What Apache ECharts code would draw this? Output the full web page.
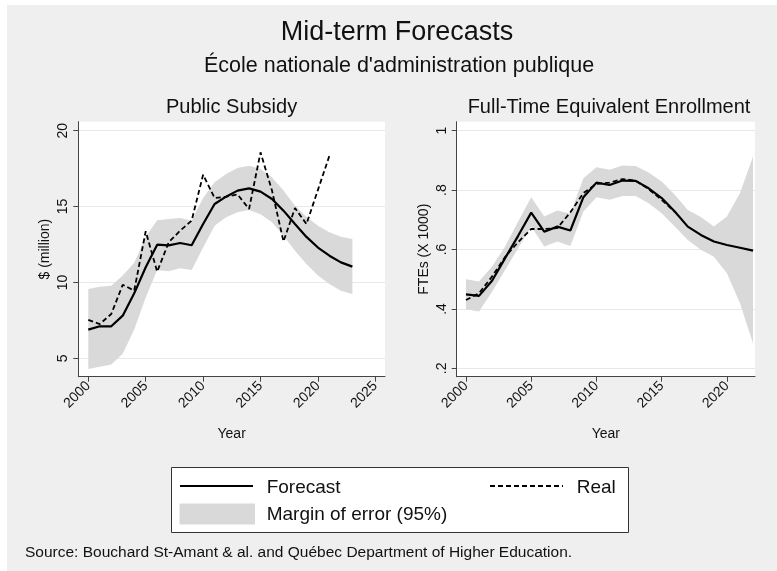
<!DOCTYPE html>
<html>
<head>
<meta charset="utf-8">
<script src="https://cdn.jsdelivr.net/npm/echarts@6/dist/echarts.min.js"></script>
<style>
html,body{margin:0;padding:0;background:#fff;}
#chart{width:777px;height:571px;}
</style>
</head>
<body>
<div id="chart"></div>
<script>
// ---------- data ----------
const subYears = [2000,2001,2002,2003,2004,2005,2006,2007,2008,2009,2010,2011,2012,2013,2014,2015,2016,2017,2018,2019,2020,2021,2022,2023];
const subForecast = [6.89,7.11,7.11,7.81,9.28,11.0,12.49,12.44,12.6,12.45,13.85,15.17,15.65,16.05,16.2,15.98,15.5,14.73,13.85,13.0,12.3,11.76,11.32,11.04];
const subUpper = [9.57,9.72,9.79,10.45,11.3,13.0,14.1,14.18,14.24,14.07,15.56,16.6,17.14,17.54,17.69,17.47,16.92,16.05,15.06,14.33,13.74,13.3,13.01,12.86];
const subLower = [4.3,4.45,4.6,5.3,6.9,9.0,10.82,10.73,10.93,10.82,12.31,13.74,14.29,14.62,14.77,14.5,13.96,13.08,12.09,11.21,10.45,9.9,9.46,9.24];
const subRealYears = [2000,2001,2002,2003,2004,2005,2006,2007,2008,2009,2010,2011,2012,2013,2014,2015,2016,2017,2018,2019,2020,2021];
const subReal = [7.53,7.26,7.92,9.85,9.46,13.37,10.71,12.64,13.41,14.07,17.1,15.56,15.65,15.8,14.84,18.57,16.05,12.7,14.9,13.85,16.1,18.35];

const fteYears = [2000,2001,2002,2003,2004,2005,2006,2007,2008,2009,2010,2011,2012,2013,2014,2015,2016,2017,2018,2019,2020,2021,2022];
const fteForecast = [0.449,0.444,0.495,0.571,0.646,0.724,0.66,0.677,0.664,0.776,0.825,0.817,0.832,0.831,0.806,0.773,0.728,0.677,0.649,0.627,0.615,0.606,0.596];
const fteUpper = [0.5,0.492,0.543,0.61,0.694,0.776,0.711,0.731,0.72,0.84,0.877,0.868,0.883,0.881,0.859,0.829,0.784,0.733,0.709,0.677,0.711,0.79,0.913];
const fteLower = [0.399,0.391,0.458,0.531,0.604,0.677,0.61,0.627,0.612,0.728,0.776,0.767,0.78,0.78,0.756,0.722,0.677,0.632,0.599,0.576,0.52,0.419,0.284];
const fteRealYears = [2000,2001,2002,2003,2004,2005,2006,2007,2008,2009,2010,2011,2012,2013,2014,2015,2016];
const fteReal = [0.430,0.453,0.509,0.575,0.625,0.669,0.669,0.672,0.725,0.79,0.821,0.825,0.837,0.832,0.803,0.767,0.727];

const subXTicks = [2000,2005,2010,2015,2020,2025];
const subYTicks = [5,10,15,20];
const fteXTicks = [2000,2005,2010,2015,2020];
const fteYTicks = [0.2,0.4,0.6,0.8,1];

// ---------- helpers ----------
const pairs = (xs, ys) => xs.map((x, i) => [x, ys[i]]);

const FONT = '"Liberation Sans", Arial, Helvetica, sans-serif';
const TXT = '#111';
const AX = '#444';
const BAND = '#d9d9d9';
const GRIDC = '#e8e8e8';

function xAxisCfg(grid, min, max, ticks) {
  return {
    type: 'value', gridIndex: grid, min: min, max: max,
    axisLine: {show: true, onZero: false, lineStyle: {color: AX, width: 1}},
    axisTick: {show: true, customValues: ticks, length: 5, lineStyle: {color: AX}},
    axisLabel: {customValues: ticks, rotate: 45, fontSize: 14, color: TXT, fontFamily: FONT, margin: 7,
      formatter: v => String(Math.round(v))},
    splitLine: {show: false},
    name: 'Year', nameLocation: 'middle', nameGap: 50,
    nameTextStyle: {fontSize: 14, color: TXT, fontFamily: FONT}
  };
}
function yAxisCfg(grid, min, max, ticks, name, fmt) {
  return {
    type: 'value', gridIndex: grid, min: min, max: max,
    axisLine: {show: true, lineStyle: {color: AX, width: 1}},
    axisTick: {show: true, customValues: ticks, length: 5, lineStyle: {color: AX}},
    axisLabel: {customValues: ticks, rotate: 90, fontSize: 14, color: TXT, fontFamily: FONT, margin: 8, formatter: fmt},
    splitLine: {show: true, lineStyle: {color: GRIDC, width: 1}},
    name: name, nameLocation: 'middle', nameGap: 26, nameRotate: 90,
    nameTextStyle: {fontSize: 14, color: TXT, fontFamily: FONT}
  };
}
function bandSeries(ax, xs, up, lo) {
  return {
    type: 'custom', xAxisIndex: ax, yAxisIndex: ax, silent: true, z: 1,
    data: xs.map((x, i) => [x, lo[i], up[i]]),
    encode: {x: 0, y: [1, 2]},
    renderItem: function (params, api) {
      if (params.dataIndex !== 0) return null;
      const pts = [];
      for (let i = 0; i < xs.length; i++) pts.push(api.coord([xs[i], up[i]]));
      for (let i = xs.length - 1; i >= 0; i--) pts.push(api.coord([xs[i], lo[i]]));
      return {type: 'polygon', shape: {points: pts}, style: {fill: BAND, stroke: null}};
    }
  };
}
function lineSeries(ax, xs, ys, dashed) {
  return {type: 'line', xAxisIndex: ax, yAxisIndex: ax, data: pairs(xs, ys), symbol: 'none', silent: true,
    lineStyle: {color: '#000', width: dashed ? 1.8 : 2.2, type: dashed ? [5, 3] : 'solid'}, z: 5};
}

const chart = echarts.init(document.getElementById('chart'), null, {renderer: 'canvas'});
const fteFmt = v => (Math.abs(v - 1) < 1e-9 ? '1' : v.toFixed(1).replace(/^0/, ''));

const option = {
  animation: false,
  backgroundColor: '#efefef',
  grid: [
    {left: 78.3, top: 121.7, width: 306.7, height: 255, show: true, backgroundColor: '#fff', borderWidth: 0, containLabel: false},
    {left: 456.7, top: 121.7, width: 298.3, height: 255, show: true, backgroundColor: '#fff', borderWidth: 0, containLabel: false}
  ],
  xAxis: [
    xAxisCfg(0, 1999.13, 2025.84, subXTicks),
    xAxisCfg(1, 1999.29, 2022.15, fteXTicks)
  ],
  yAxis: [
    yAxisCfg(0, 3.79, 20.59, subYTicks, '$ (million)', v => String(Math.round(v))),
    yAxisCfg(1, 0.172, 1.03, fteYTicks, 'FTEs (X 1000)', fteFmt)
  ],
  series: [
    bandSeries(0, subYears, subUpper, subLower),
    lineSeries(0, subYears, subForecast, false),
    lineSeries(0, subRealYears, subReal, true),
    bandSeries(1, fteYears, fteUpper, fteLower),
    lineSeries(1, fteYears, fteForecast, false),
    lineSeries(1, fteRealYears, fteReal, true)
  ],
  graphic: [
    {type: 'rect', shape: {x: 0, y: 0, width: 7, height: 571}, style: {fill: '#fff'}, silent: true},
    {type: 'rect', shape: {x: 0, y: 0, width: 777, height: 5}, style: {fill: '#fff'}, silent: true},
    {type: 'text', x: 397, y: 33, style: {text: 'Mid-term Forecasts', fontSize: 27, fontFamily: FONT, fill: TXT, textAlign: 'center', textVerticalAlign: 'middle'}},
    {type: 'text', x: 399, y: 66.5, style: {text: "École nationale d'administration publique", fontSize: 21.5, fontFamily: FONT, fill: TXT, textAlign: 'center', textVerticalAlign: 'middle'}},
    {type: 'text', x: 231.6, y: 107.5, style: {text: 'Public Subsidy', fontSize: 20, fontFamily: FONT, fill: TXT, textAlign: 'center', textVerticalAlign: 'middle'}},
    {type: 'text', x: 609, y: 107, style: {text: 'Full-Time Equivalent Enrollment', fontSize: 20, fontFamily: FONT, fill: TXT, textAlign: 'center', textVerticalAlign: 'middle'}},
    // legend
    {type: 'rect', shape: {x: 171.5, y: 467.5, width: 457, height: 65}, style: {fill: '#fff', stroke: '#333', lineWidth: 1}},
    {type: 'line', shape: {x1: 180, y1: 486, x2: 253, y2: 486}, style: {stroke: '#000', lineWidth: 2}},
    {type: 'text', x: 266.7, y: 487.5, style: {text: 'Forecast', fontSize: 19, fontFamily: FONT, fill: TXT, textAlign: 'left', textVerticalAlign: 'middle'}},
    {type: 'line', shape: {x1: 490, y1: 486, x2: 563, y2: 486}, style: {stroke: '#000', lineWidth: 1.8, lineDash: [5, 3]}},
    {type: 'text', x: 576.7, y: 487.5, style: {text: 'Real', fontSize: 19, fontFamily: FONT, fill: TXT, textAlign: 'left', textVerticalAlign: 'middle'}},
    {type: 'rect', shape: {x: 179.5, y: 503.5, width: 75.5, height: 21}, style: {fill: BAND}},
    {type: 'text', x: 266.7, y: 515, style: {text: 'Margin of error (95%)', fontSize: 19, fontFamily: FONT, fill: TXT, textAlign: 'left', textVerticalAlign: 'middle'}},
    // source
    {type: 'text', x: 25, y: 553, style: {text: 'Source: Bouchard St-Amant & al. and Québec Department of Higher Education.', fontSize: 15.5, fontFamily: FONT, fill: TXT, textAlign: 'left', textVerticalAlign: 'middle'}}
  ]
};
chart.setOption(option);
</script>
</body>
</html>
